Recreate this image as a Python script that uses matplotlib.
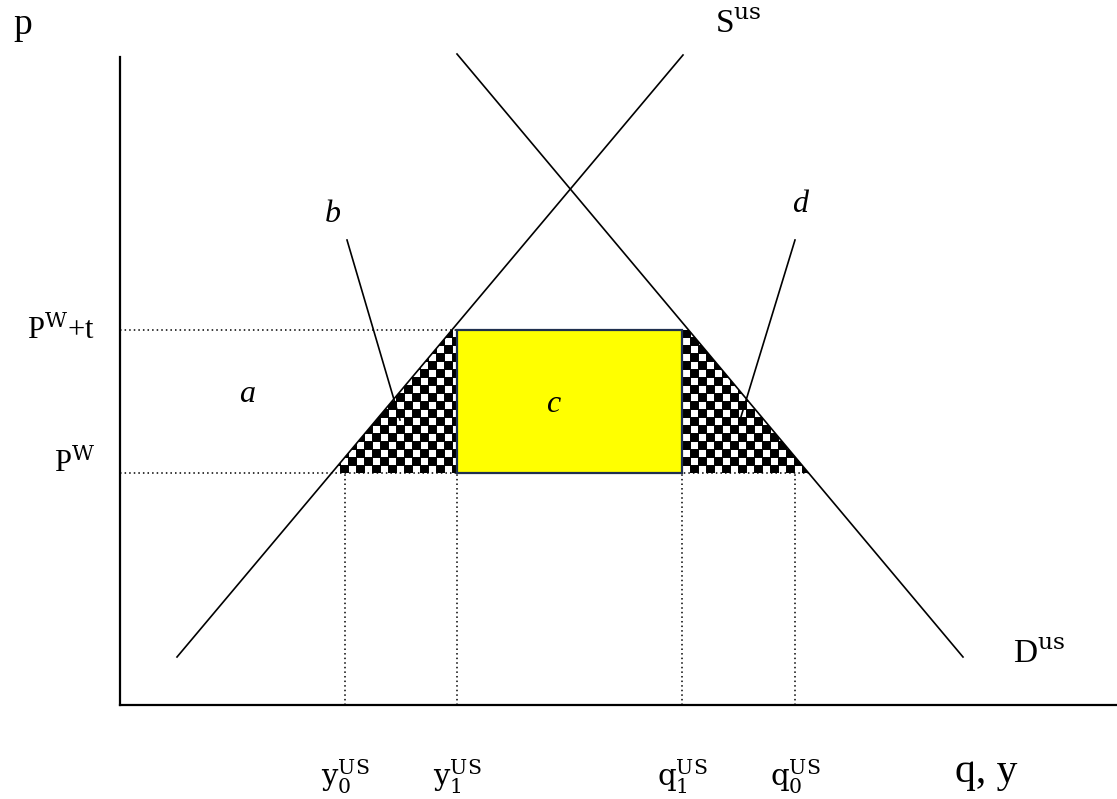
import numpy as np
import matplotlib.pyplot as plt
from matplotlib.patches import Polygon, Rectangle
from matplotlib.collections import PatchCollection

plt.rcParams['mathtext.fontset'] = 'dejavuserif'

# diagram values (origin at the corner of the axes, units ~ pixels)
supply_q = [57, 563]
supply_p = [48, 650]
demand_q = [337, 843]
demand_p = [651, 48]
p_world = 232
p_tariff = 375          # P^W + t
y0, y1 = 225, 337       # domestic supply, free trade / tariff
q1, q0 = 562, 675       # domestic demand, tariff / free trade
q_axis_top = 648
q_axis_right = 997

def on_supply(p):
    return supply_q[0] + (p - supply_p[0]) * (supply_q[1] - supply_q[0]) / (supply_p[1] - supply_p[0])

def on_demand(p):
    return demand_q[0] + (p - demand_p[0]) * (demand_q[1] - demand_q[0]) / (demand_p[1] - demand_p[0])

fig = plt.figure(figsize=(11.17, 7.99), dpi=100)
ax = fig.add_axes([0, 0, 1, 1])
ax.set_xlim(-120, 997)
ax.set_ylim(-94, 705)
ax.axis('off')

# axes
ax.plot([0, 0], [0, q_axis_top], color='black', lw=1.6)
ax.plot([0, q_axis_right], [0, 0], color='black', lw=1.6)

# supply and demand
ax.plot(supply_q, supply_p, color='black', lw=1.2, zorder=4)
ax.plot(demand_q, demand_p, color='black', lw=1.2, zorder=4)

# dotted guides
ax.plot([0, y1], [p_tariff, p_tariff], color='black', ls=(0, (1, 2)), lw=1.1)
ax.plot([0, on_demand(p_world)], [p_world, p_world], color='black', ls=(0, (1, 2)), lw=1.1)
for q in [y0, y1, q1, q0]:
    ax.plot([q, q], [0, p_world], color='black', ls=(0, (1, 2)), lw=1.1)

# checkered triangles (b and d)
cell = 8
tri_b = [(on_supply(p_world), p_world), (y1, p_world), (y1, p_tariff), (on_supply(p_tariff), p_tariff)]
tri_d = [(q1, p_world), (on_demand(p_world), p_world), (on_demand(p_tariff), p_tariff), (q1, p_tariff)]
for tri in [tri_b, tri_d]:
    poly = Polygon(tri, closed=True, facecolor='white', edgecolor='none', zorder=1)
    ax.add_patch(poly)
    xs = [t[0] for t in tri]
    x_start = min(xs) - cell
    squares = []
    for i, x in enumerate(np.arange(x_start, max(xs) + cell, cell)):
        for j, p in enumerate(np.arange(p_world, p_tariff + cell, cell)):
            if (i + j) % 2 == 0:
                squares.append(Rectangle((x, p), cell, cell))
    pc = PatchCollection(squares, facecolor='black', edgecolor='black', lw=0.7, zorder=2)
    ax.add_collection(pc)
    pc.set_clip_path(poly)

# rectangle c
ax.add_patch(Rectangle((y1, p_world), q1 - y1, p_tariff - p_world, facecolor='#ffff00',
                       edgecolor='#1f3050', lw=1.6, zorder=3))

# pointers for b and d
ax.plot([227, 280], [465, 285], color='black', lw=1.2, zorder=4)
ax.plot([675, 620], [465, 285], color='black', lw=1.2, zorder=4)

serif = 'Liberation Serif'
ax.text(213, 490, 'b', fontsize=23, style='italic', family=serif, ha='center', va='center')
ax.text(680, 500, 'd', fontsize=23, style='italic', family=serif, ha='center', va='center')
ax.text(127, 310, 'a', fontsize=23, style='italic', family=serif, ha='center', va='center')
ax.text(433, 300, 'c', fontsize=23, style='italic', family=serif, ha='center', va='center')

ax.text(-107, 680, 'p', fontsize=27, family=serif, ha='left', va='center')
ax.text(-25, p_tariff, r'P$^{\mathrm{W}}$+t', fontsize=22, family=serif, ha='right', va='center')
ax.text(-25, p_world + 10, r'P$^{\mathrm{W}}$', fontsize=22, family=serif, ha='right', va='center')
ax.text(595, 680, r'S$^{\mathrm{us}}$', fontsize=24, family=serif, ha='left', va='center')
ax.text(893, 50, r'D$^{\mathrm{us}}$', fontsize=24, family=serif, ha='left', va='center')
ax.text(835, -67, 'q, y', fontsize=30, family=serif, ha='left', va='center')

q_labels = [r'$\mathrm{y}_0^{\mathrm{US}}$', r'$\mathrm{y}_1^{\mathrm{US}}$',
            r'$\mathrm{q}_1^{\mathrm{US}}$', r'$\mathrm{q}_0^{\mathrm{US}}$']
for q, lab in zip([y0, y1, q1, q0], q_labels):
    ax.text(q, -72, lab, fontsize=21, ha='center', va='center')

fig.savefig('out.png', dpi=100)
